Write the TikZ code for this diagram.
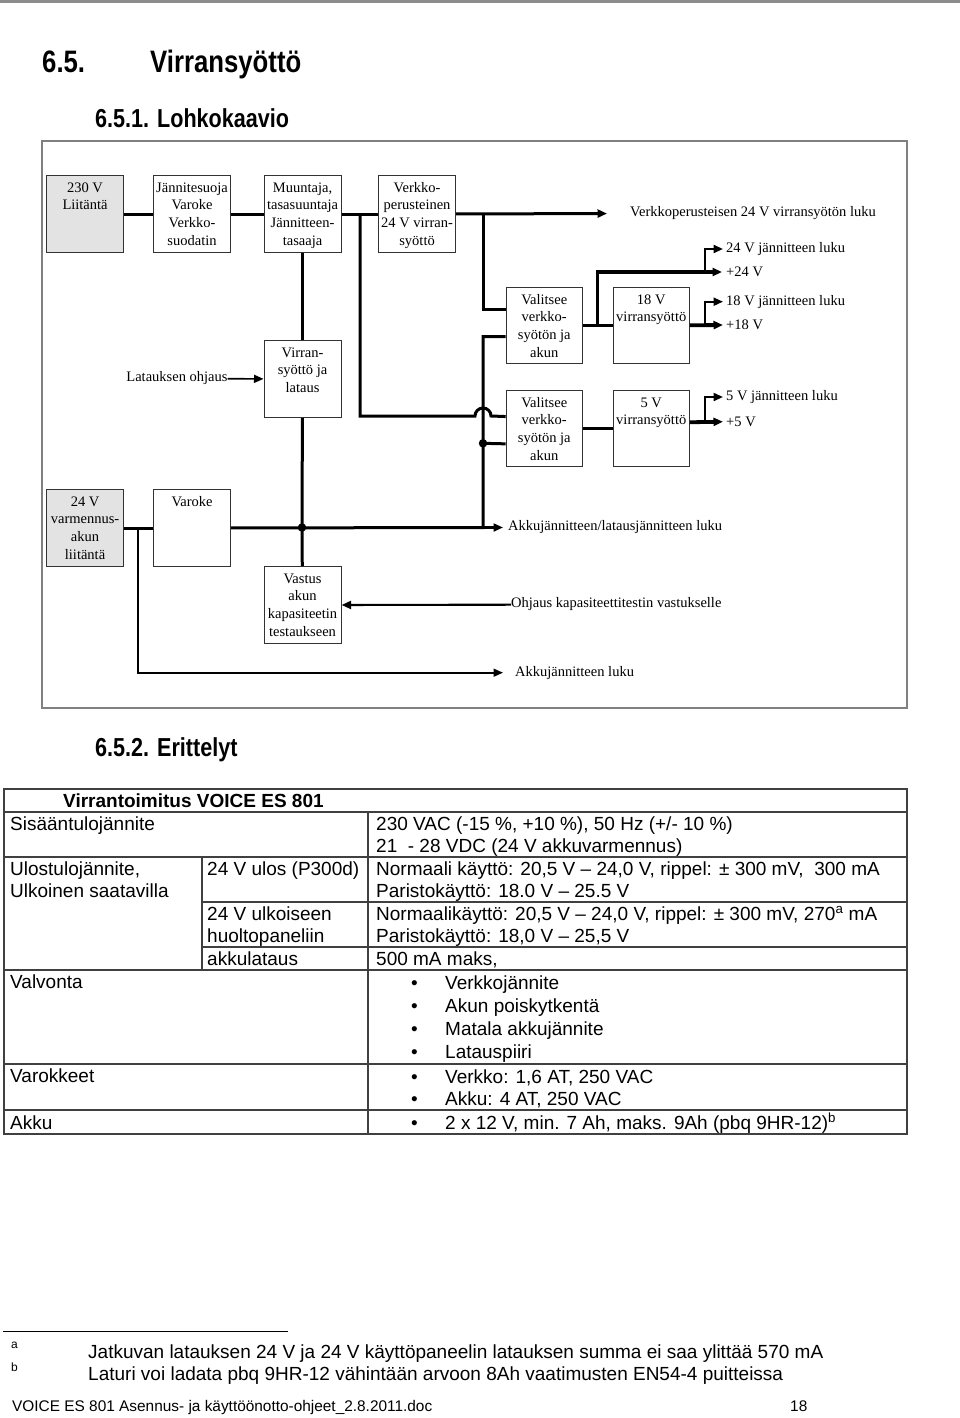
\documentclass[tikz,border=0pt]{standalone}
\usepackage{fontspec}
\setmainfont{Liberation Sans}
\newfontfamily\diagserif{Liberation Serif}
\newfontfamily\headfont[FakeStretch=0.83]{Liberation Sans}
\usepackage{tikz}
\usetikzlibrary{arrows.meta,calc}

\newcommand{\diagfont}{\diagserif\fontsize{14.5}{17.7}\selectfont}
\newcommand{\tabfont}{\fontsize{19}{22.5}\selectfont}
\newcommand{\boxtxt}[2][77]{\parbox[c][#1pt][t]{#1pt}{\centering\rule{0pt}{16.5pt}#2}}

\begin{document}
\begin{tikzpicture}[
  x=1pt, y=1pt,
  blk/.style={draw=black!80, line width=1.1pt, inner sep=0pt, anchor=north west, font=\diagfont},
  gblk/.style={blk, fill=black!11},
  lbl/.style={inner sep=0pt, anchor=west, font=\diagfont},
  pwr/.style={line width=3pt},
  heavy/.style={line width=3.8pt},
  sig/.style={line width=2.1pt},
  thinsig/.style={line width=1.6pt},
  farrow/.style={-{Triangle[length=9.5pt,width=8pt]}},
  jdot/.style={circle, fill=black, inner sep=0pt, minimum size=8.5pt},
  txt/.style={inner sep=0pt, anchor=base west, font=\tabfont},
  headA/.style={txt, font=\headfont\bfseries\fontsize{31}{36}\selectfont},
  headB/.style={txt, font=\headfont\bfseries\fontsize{26}{30}\selectfont},
  tabline/.style={draw=black!75, line width=1.3pt},
]
\useasboundingbox (0,0) rectangle (960,-1418);
\fill[black!45] (0,0) rectangle (960,-3);

\node[headA] (h1num) at (42,-73) {6.5.};
\node[headA] (h1) at (150,-73) {Virransyöttö};
\node[headB] (h2) at (95,-127.5) {6.5.1. Lohkokaavio};

\draw[black!50, line width=2.4pt] (42,-141) rectangle (907,-708);

\node[gblk] (mains) at (46,-175) {\boxtxt{230 V\\Liitäntä}};
\node[blk] (suoja) at (153,-175) {\boxtxt{Jännitesuoja\\Varoke\\Verkko-\\suodatin}};
\node[blk] (muunt) at (263.5,-175) {\boxtxt{Muuntaja,\\tasasuuntaja\\Jännitteen-\\tasaaja}};
\node[blk] (verkko) at (378,-175) {\boxtxt{Verkko-\\perusteinen\\24 V virran-\\syöttö}};
\node[blk] (valA) at (505.7,-287) {\boxtxt[76]{Valitsee\\verkko-\\syötön ja\\akun}};
\node[blk] (ps18) at (612.7,-287) {\boxtxt[76]{18 V\\virransyöttö}};
\node[blk] (valB) at (505.7,-390) {\boxtxt[76]{Valitsee\\verkko-\\syötön ja\\akun}};
\node[blk] (ps5) at (612.7,-390) {\boxtxt[76]{5 V\\virransyöttö}};
\node[blk] (lataus) at (263.5,-340) {\boxtxt{Virran-\\syöttö ja\\lataus}};
\node[gblk] (akku) at (46,-489) {\boxtxt{24 V\\varmennus-\\akun\\liitäntä}};
\node[blk] (varoke) at (153,-489) {\boxtxt{Varoke}};
\node[blk] (vastus) at (263.5,-566) {\boxtxt{Vastus\\akun\\kapasiteetin\\testaukseen}};

\node[lbl] (lverk) at (630,-213.5) {Verkkoperusteisen 24 V virransyötön luku};
\node[lbl] (l24) at (726,-249) {24 V jännitteen luku};
\node[lbl] (lp24) at (726,-272) {+24 V};
\node[lbl] (l18) at (726,-301.7) {18 V jännitteen luku};
\node[lbl] (lp18) at (726,-325) {+18 V};
\node[lbl] (l5) at (726,-397) {5 V jännitteen luku};
\node[lbl] (lp5) at (726,-421.7) {+5 V};
\node[lbl] (lakkulat) at (508,-527.5) {Akkujännitteen/latausjännitteen luku};
\node[lbl] (lohjaus) at (511,-604.5) {Ohjaus kapasiteettitestin vastukselle};
\node[lbl] (lakku) at (515,-672.7) {Akkujännitteen luku};
\node[lbl, anchor=east] (llat) at (227.7,-378.5) {Latauksen ohjaus};

\coordinate (j1) at (360,-213.5);
\coordinate (j2) at (483,-213.5);
\coordinate (inA1) at ($(valA.west)+(0,16)$);
\coordinate (inA2) at ($(valA.west)+(0,-11)$);
\coordinate (inB1) at ($(valB.west)+(0,12)$);
\coordinate (inB2) at ($(valB.west)+(0,-15.3)$);
\coordinate (hop) at (475,-416);
\coordinate (jb) at (302,-527.5);
\coordinate (j3) at (483,-527.5);
\coordinate (jd) at (483,-443.3);
\coordinate (jt) at (137.7,-527.5);
\coordinate (j4) at (597.5,-325);
\coordinate (j5) at (705,-272);
\coordinate (j6) at (705,-325);
\coordinate (out5) at ($(ps5.east)+(0,6.3)$);
\coordinate (j7) at (705,-421.7);

\draw[pwr] (mains) -- (suoja);
\draw[pwr] (suoja) -- (muunt);
\draw[pwr] (muunt) -- (verkko);
\draw[pwr, farrow, shorten >=23pt] (verkko) -- (lverk.west);
\draw[pwr] (j2) |- (inA1);
\draw[pwr] (j1) |- (hop) arc[start angle=180, end angle=0, radius=8] -- (inB1);
\draw[pwr] (muunt) -- (lataus);
\draw[pwr] (lataus) -- (jb) -- (vastus);
\draw[pwr] (akku) -- (varoke);
\draw[pwr] (varoke) -- (j3) |- (inA2);
\draw[pwr] (jd) -- (inB2);
\draw[sig, farrow, shorten >=5pt] (j3) -- (lakkulat.west);
\draw[thinsig, farrow, shorten >=12pt] (jt) |- (lakku.west);
\draw[thinsig, farrow] (llat) -- (lataus);
\draw[sig, farrow] (lohjaus) -- (vastus);

\draw[pwr] (valA) -- (ps18);
\draw[heavy, farrow, shorten >=4pt] (j4) |- (lp24.west);
\draw[sig, farrow, shorten >=3pt] (j5) |- (l24.west);
\draw[heavy, farrow, shorten >=3pt] (ps18) -- (lp18.west);
\draw[sig, farrow, shorten >=3pt] (j6) |- (l18.west);
\draw[pwr] (valB) -- (ps5);
\draw[heavy, farrow, shorten >=3pt] (out5) -- (lp5.west);
\draw[sig, farrow, shorten >=3pt] (j7) |- (l5.west);

\node[jdot] (djb) at (jb) {};
\node[jdot] (djd) at (jd) {};

\node[headB] (h3) at (95,-756.5) {6.5.2. Erittelyt};

\draw[tabline] (4,-789) rectangle (907,-1134);
\foreach \y in {812,857,970,1064,1110}{
  \draw[tabline] (4,-\y) -- (907,-\y);
}
\foreach \y in {902,947}{
  \draw[tabline] (202,-\y) -- (907,-\y);
}
\draw[tabline] (368,-812) -- (368,-1134);
\draw[tabline] (202,-857) -- (202,-970);

\node[txt, font=\bfseries\tabfont] (ttitle) at (63,-807) {Virrantoimitus VOICE ES 801};
\node[txt] (tin) at (10,-830) {Sisääntulojännite};
\node[txt] (tinA) at (376,-830) {230 VAC (-15 \%, +10 \%), 50 Hz (+/- 10 \%)};
\node[txt] (tinB) at (376,-852) {21\ \ - 28 VDC (24 V akkuvarmennus)};
\node[txt] (toutA) at (10,-875) {Ulostulojännite,};
\node[txt] (toutB) at (10,-897) {Ulkoinen saatavilla};
\node[txt] (tulos) at (207,-875) {24 V ulos (P300d)};
\node[txt] (tulosA) at (376,-875) {Normaali käyttö: 20,5 V – 24,0 V, rippel: ± 300 mV,\ \ 300 mA};
\node[txt] (tulosB) at (376,-897) {Paristokäyttö: 18.0 V – 25.5 V};
\node[txt] (thuoltoA) at (207,-920) {24 V ulkoiseen};
\node[txt] (thuoltoB) at (207,-942) {huoltopaneliin};
\node[txt] (thuoltoC) at (376,-920) {Normaalikäyttö: 20,5 V – 24,0 V, rippel: ± 300 mV, 270\textsuperscript{a} mA};
\node[txt] (thuoltoD) at (376,-942) {Paristokäyttö: 18,0 V – 25,5 V};
\node[txt] (tlat) at (207,-965) {akkulataus};
\node[txt] (tlatB) at (376,-965) {500 mA maks,};
\node[txt] (tvalv) at (10,-988) {Valvonta};
\node[txt] (tvar) at (10,-1082) {Varokkeet};
\node[txt] (takku) at (10,-1129) {Akku};
\foreach \y/\t [count=\i] in {989/Verkkojännite, 1012/Akun poiskytkentä, 1035/Matala akkujännite, 1058/Latauspiiri, 1083/{Verkko: 1,6 AT, 250 VAC}, 1105/{Akku: 4 AT, 250 VAC}, 1129/{2 x 12 V, min. 7 Ah, maks. 9Ah (pbq 9HR-12)\textsuperscript{b}}}{
  \node[txt] (bul\i) at (411,-\y) {\textbullet};
  \node[txt] (item\i) at (445,-\y) {\t};
}

\draw[line width=0.9pt] (3,-1331) -- (288,-1331);
\node[txt, font=\fontsize{12}{14}\selectfont] (fna) at (11,-1348) {a};
\node[txt] (fnta) at (88,-1358) {Jatkuvan latauksen 24 V ja 24 V käyttöpaneelin latauksen summa ei saa ylittää 570 mA};
\node[txt, font=\fontsize{12}{14}\selectfont] (fnb) at (11,-1371) {b};
\node[txt] (fntb) at (88,-1380) {Laturi voi ladata pbq 9HR-12 vähintään arvoon 8Ah vaatimusten EN54-4 puitteissa};
\node[txt, font=\fontsize{15.4}{18}\selectfont] (foot) at (12,-1411.5) {VOICE ES 801 Asennus- ja käyttöönotto-ohjeet\_2.8.2011.doc};
\node[txt, font=\fontsize{15.4}{18}\selectfont] (page) at (790,-1411.5) {18};
\end{tikzpicture}
\end{document}
